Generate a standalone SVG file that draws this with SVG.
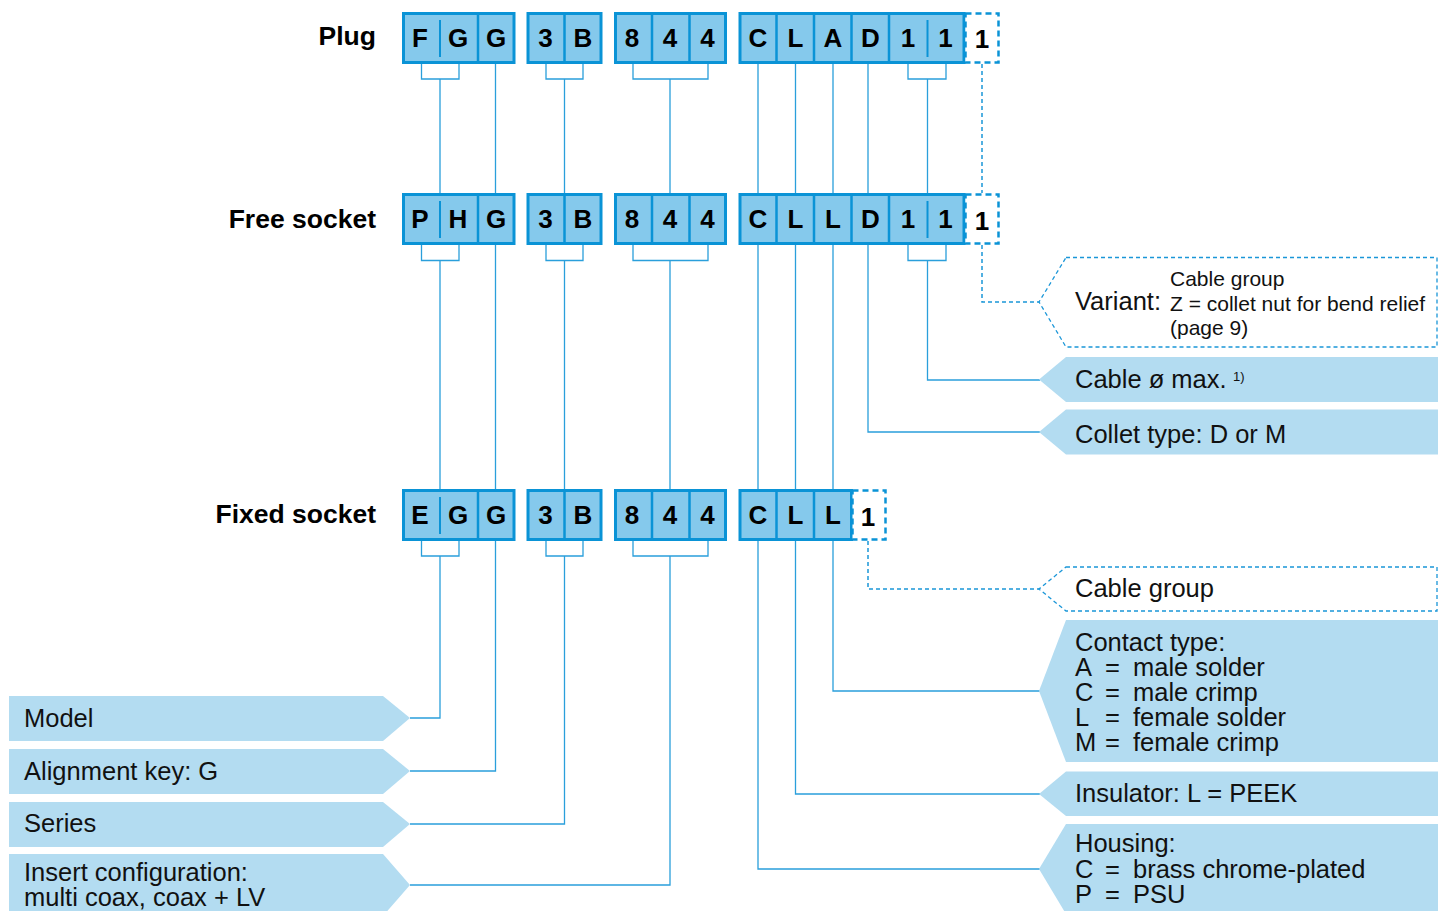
<svg xmlns="http://www.w3.org/2000/svg" width="1438" height="911" viewBox="0 0 1438 911">
<style>
.box{fill:#85c9ec;stroke:#0a93d6;stroke-width:3}
.div{stroke:#0a93d6;stroke-width:2.5;fill:none}
.sdiv{stroke:#0a93d6;stroke-width:2;fill:none}
.dbox{fill:#fff;stroke:#0a93d6;stroke-width:2.5;stroke-dasharray:6 4}
.ch{font-family:"Liberation Sans",Arial,sans-serif;font-weight:bold;font-size:26px;fill:#000;text-anchor:middle}
.row{font-family:"Liberation Sans",Arial,sans-serif;font-weight:bold;font-size:26.5px;fill:#000;text-anchor:end}
.lbl{font-family:"Liberation Sans",Arial,sans-serif;font-size:25.5px;fill:#111}
.sm{font-family:"Liberation Sans",Arial,sans-serif;font-size:21px;fill:#111}
.sup{font-family:"Liberation Sans",Arial,sans-serif;font-size:13px;fill:#111}
.pent{fill:#b3dcf1}
.dpent{fill:#fff;stroke:#1a96d8;stroke-width:1.3;stroke-dasharray:4 3}
.con{stroke:#2a9fdb;stroke-width:1.3;fill:none}
.dcon{stroke:#1a96d8;stroke-width:1.5;fill:none;stroke-dasharray:4 3}
</style>

<g id="row-labels">
<text class="row" x="376" y="45">Plug</text>
<text class="row" x="376" y="228">Free socket</text>
<text class="row" x="376" y="523">Fixed socket</text>
</g>

<g id="connectors">
<path class="con" d="M421.5 64V79H459V64M546 64V79H583V64M633 64V79H708V64M908 64V79H946V64"/>
<path class="con" d="M421.5 245V260.5H459V245M546 245V260.5H583V245M633 245V260.5H708V245M908 245V260.5H946V245"/>
<path class="con" d="M421.5 541V556H459V541M546 541V556H583V541M633 541V556H708V541"/>
<path class="con" d="M440 79V193M495.5 64V193M564.5 79V193M670 79V193M758 64V193M795.5 64V193M833 64V193M868 64V193M927.5 79V193"/>
<path class="con" d="M440 260.5V489M495.5 245V489M564.5 260.5V489M670 260.5V489M758 245V489M795.5 245V489M833 245V489"/>
<path class="con" d="M868 245V432H1040"/>
<path class="con" d="M927.5 260.5V380H1040"/>
<path class="con" d="M440 556V718H410"/>
<path class="con" d="M495.5 541V771H410"/>
<path class="con" d="M564.5 556V824H410"/>
<path class="con" d="M670 556V885H410"/>
<path class="con" d="M833 541V691H1040"/>
<path class="con" d="M795.5 541V794H1040"/>
<path class="con" d="M758 541V869H1040"/>
<path class="dcon" d="M982 64V193"/>
<path class="dcon" d="M982 245V302H1040"/>
<path class="dcon" d="M868 541V589H1040"/>
</g>

<g id="plug">
<rect class="box" x="403.5" y="13.5" width="110.5" height="49"/>
<path class="div" d="M478 13.5V62.5"/><path class="sdiv" d="M440 20V57"/>
<rect class="box" x="528" y="13.5" width="73" height="49"/>
<path class="div" d="M564.5 13.5V62.5"/>
<rect class="box" x="615.5" y="13.5" width="110" height="49"/>
<path class="div" d="M652 13.5V62.5M689.5 13.5V62.5"/>
<rect class="box" x="740" y="13.5" width="224" height="49"/>
<path class="div" d="M776.5 13.5V62.5M814 13.5V62.5M851.5 13.5V62.5M889 13.5V62.5"/><path class="sdiv" d="M927.5 20V57"/>
<rect class="dbox" x="965.5" y="13.5" width="33" height="49"/>
<text class="ch" x="420" y="47">F</text><text class="ch" x="458" y="47">G</text><text class="ch" x="496" y="47">G</text>
<text class="ch" x="545.5" y="47">3</text><text class="ch" x="583" y="47">B</text>
<text class="ch" x="632" y="47">8</text><text class="ch" x="670" y="47">4</text><text class="ch" x="707.5" y="47">4</text>
<text class="ch" x="758" y="47">C</text><text class="ch" x="795.5" y="47">L</text><text class="ch" x="833" y="47">A</text><text class="ch" x="870.5" y="47">D</text><text class="ch" x="908" y="47">1</text><text class="ch" x="945.5" y="47">1</text>
<text class="ch" x="982" y="48">1</text>
</g>

<g id="free-socket">
<rect class="box" x="403.5" y="194.5" width="110.5" height="49"/>
<path class="div" d="M478 194.5V243.5"/><path class="sdiv" d="M440 201V238"/>
<rect class="box" x="528" y="194.5" width="73" height="49"/>
<path class="div" d="M564.5 194.5V243.5"/>
<rect class="box" x="615.5" y="194.5" width="110" height="49"/>
<path class="div" d="M652 194.5V243.5M689.5 194.5V243.5"/>
<rect class="box" x="740" y="194.5" width="224" height="49"/>
<path class="div" d="M776.5 194.5V243.5M814 194.5V243.5M851.5 194.5V243.5M889 194.5V243.5"/><path class="sdiv" d="M927.5 201V238"/>
<rect class="dbox" x="965.5" y="194.5" width="33" height="49"/>
<text class="ch" x="420" y="228">P</text><text class="ch" x="458" y="228">H</text><text class="ch" x="496" y="228">G</text>
<text class="ch" x="545.5" y="228">3</text><text class="ch" x="583" y="228">B</text>
<text class="ch" x="632" y="228">8</text><text class="ch" x="670" y="228">4</text><text class="ch" x="707.5" y="228">4</text>
<text class="ch" x="758" y="228">C</text><text class="ch" x="795.5" y="228">L</text><text class="ch" x="833" y="228">L</text><text class="ch" x="870.5" y="228">D</text><text class="ch" x="908" y="228">1</text><text class="ch" x="945.5" y="228">1</text>
<text class="ch" x="982" y="230">1</text>
</g>

<g id="fixed-socket">
<rect class="box" x="403.5" y="490.5" width="110.5" height="49"/>
<path class="div" d="M478 490.5V539.5"/><path class="sdiv" d="M440 497V534"/>
<rect class="box" x="528" y="490.5" width="73" height="49"/>
<path class="div" d="M564.5 490.5V539.5"/>
<rect class="box" x="615.5" y="490.5" width="110" height="49"/>
<path class="div" d="M652 490.5V539.5M689.5 490.5V539.5"/>
<rect class="box" x="740" y="490.5" width="111.5" height="49"/>
<path class="div" d="M776.5 490.5V539.5M814 490.5V539.5"/>
<rect class="dbox" x="852.5" y="490.5" width="33" height="49"/>
<text class="ch" x="420" y="524">E</text><text class="ch" x="458" y="524">G</text><text class="ch" x="496" y="524">G</text>
<text class="ch" x="545.5" y="524">3</text><text class="ch" x="583" y="524">B</text>
<text class="ch" x="632" y="524">8</text><text class="ch" x="670" y="524">4</text><text class="ch" x="707.5" y="524">4</text>
<text class="ch" x="758" y="524">C</text><text class="ch" x="795.5" y="524">L</text><text class="ch" x="833" y="524">L</text>
<text class="ch" x="868" y="526">1</text>
</g>

<g id="model">
<polygon class="pent" points="9,696 383,696 410,718 383,741 9,741"/>
<text class="lbl" x="24" y="727">Model</text>
</g>
<g id="alignment-key">
<polygon class="pent" points="9,749 383,749 410,771 383,794 9,794"/>
<text class="lbl" x="24" y="780">Alignment key: G</text>
</g>
<g id="series">
<polygon class="pent" points="9,802 383,802 410,824 383,847 9,847"/>
<text class="lbl" x="24" y="832">Series</text>
</g>
<g id="insert-configuration">
<polygon class="pent" points="9,854 383,854 410,885 383,916 9,916"/>
<text class="lbl" x="24" y="881">Insert configuration:</text>
<text class="lbl" x="24" y="906">multi coax, coax + LV</text>
</g>

<g id="variant">
<polygon class="dpent" points="1066,257.5 1437,257.5 1437,347 1066,347 1039,302"/>
<text class="lbl" x="1075" y="310">Variant:</text>
<text class="sm" x="1170" y="286">Cable group</text>
<text class="sm" x="1170" y="311">Z = collet nut for bend relief</text>
<text class="sm" x="1170" y="335">(page 9)</text>
</g>
<g id="cable-diameter">
<polygon class="pent" points="1066,357 1438,357 1438,402 1066,402 1039,379.5"/>
<text class="lbl" x="1075" y="388">Cable ø max.</text>
<text class="sup" x="1233" y="381">1)</text>
</g>
<g id="collet-type">
<polygon class="pent" points="1066,409.5 1438,409.5 1438,454.5 1066,454.5 1039,432"/>
<text class="lbl" x="1075" y="443">Collet type: D or M</text>
</g>
<g id="cable-group">
<polygon class="dpent" points="1066,567 1437,567 1437,611 1066,611 1039,589"/>
<text class="lbl" x="1075" y="597">Cable group</text>
</g>
<g id="contact-type">
<polygon class="pent" points="1066,620 1438,620 1438,762 1066,762 1039,691"/>
<text class="lbl" x="1075" y="651">Contact type:</text>
<text class="lbl" x="1075" y="676">A</text><text class="lbl" x="1105" y="676">=</text><text class="lbl" x="1133" y="676">male solder</text>
<text class="lbl" x="1075" y="701">C</text><text class="lbl" x="1105" y="701">=</text><text class="lbl" x="1133" y="701">male crimp</text>
<text class="lbl" x="1075" y="726">L</text><text class="lbl" x="1105" y="726">=</text><text class="lbl" x="1133" y="726">female solder</text>
<text class="lbl" x="1075" y="751">M</text><text class="lbl" x="1105" y="751">=</text><text class="lbl" x="1133" y="751">female crimp</text>
</g>
<g id="insulator">
<polygon class="pent" points="1066,771.5 1438,771.5 1438,816 1066,816 1039,794"/>
<text class="lbl" x="1075" y="802">Insulator: L = PEEK</text>
</g>
<g id="housing">
<polygon class="pent" points="1066,824 1438,824 1438,914 1066,914 1039,869"/>
<text class="lbl" x="1075" y="852">Housing:</text>
<text class="lbl" x="1075" y="878">C</text><text class="lbl" x="1105" y="878">=</text><text class="lbl" x="1133" y="878">brass chrome-plated</text>
<text class="lbl" x="1075" y="903">P</text><text class="lbl" x="1105" y="903">=</text><text class="lbl" x="1133" y="903">PSU</text>
</g>
</svg>
